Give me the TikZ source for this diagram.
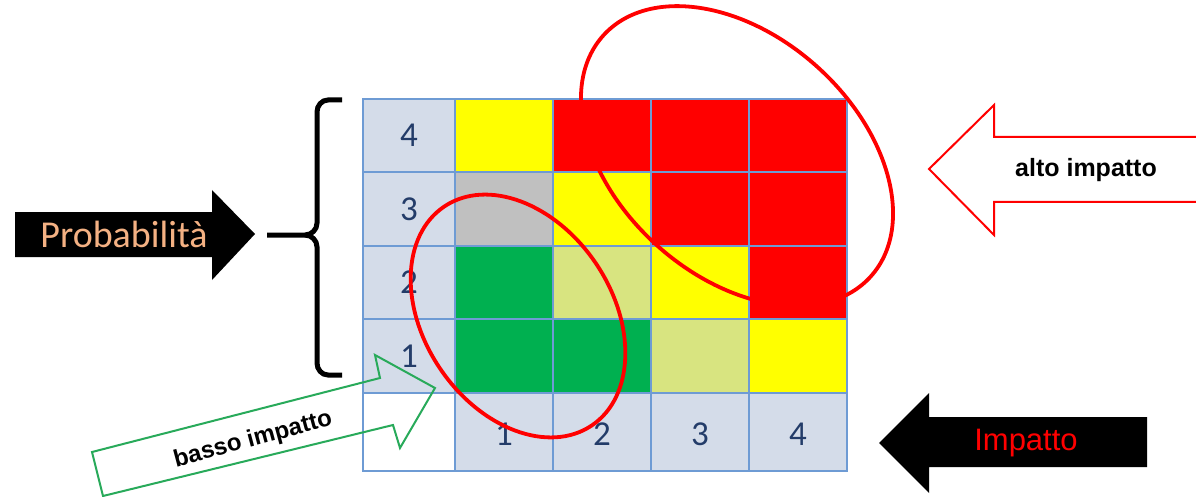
\documentclass[tikz,border=0pt]{standalone}
\usepackage{fontspec}
\setmainfont{Carlito}
\newfontfamily\arialf{Liberation Sans}
\definecolor{gridblue}{RGB}{110,155,212}
\definecolor{labfill}{RGB}{212,220,233}
\definecolor{numcol}{RGB}{35,60,105}
\definecolor{cyel}{RGB}{255,255,0}
\definecolor{cred}{RGB}{255,0,0}
\definecolor{cgreen}{RGB}{0,176,80}
\definecolor{clgreen}{RGB}{216,228,128}
\definecolor{cgray}{RGB}{192,192,192}
\definecolor{tan}{RGB}{244,177,131}
\definecolor{arrowgreen}{RGB}{40,170,90}
\newcommand\cellbox[5]{\path[draw=gridblue,line width=1.3pt,fill=#5] (#1,#2) rectangle (#3,#4);}
\tikzset{
  numlab/.style={font=\fontsize{35}{35}\selectfont, text=numcol, inner sep=0pt},
  ring/.style={draw=cred, line width=3.8pt},
}
\begin{document}
\begin{tikzpicture}[x=1pt,y=-1pt]
\useasboundingbox[fill=white] (0,0) rectangle (1196,497);
% row 4
\cellbox{363}{99}{455}{172}{labfill}
\cellbox{455}{99}{553}{172}{cyel}
\cellbox{553}{99}{651}{172}{cred}
\cellbox{651}{99}{749}{172}{cred}
\cellbox{749}{99}{847}{172}{cred}
% row 3
\cellbox{363}{172}{455}{246}{labfill}
\cellbox{455}{172}{553}{246}{cgray}
\cellbox{553}{172}{651}{246}{cyel}
\cellbox{651}{172}{749}{246}{cred}
\cellbox{749}{172}{847}{246}{cred}
% row 2
\cellbox{363}{246}{455}{319}{labfill}
\cellbox{455}{246}{553}{319}{cgreen}
\cellbox{553}{246}{651}{319}{clgreen}
\cellbox{651}{246}{749}{319}{cyel}
\cellbox{749}{246}{847}{319}{cred}
% row 1
\cellbox{363}{319}{455}{393}{labfill}
\cellbox{455}{319}{553}{393}{cgreen}
\cellbox{553}{319}{651}{393}{cgreen}
\cellbox{651}{319}{749}{393}{clgreen}
\cellbox{749}{319}{847}{393}{cyel}
% bottom row
\cellbox{363}{393}{455}{471}{white}
\cellbox{455}{393}{553}{471}{labfill}
\cellbox{553}{393}{651}{471}{labfill}
\cellbox{651}{393}{749}{471}{labfill}
\cellbox{749}{393}{847}{471}{labfill}
% labels
\node[numlab] (p4) at (409,135) {4};
\node[numlab] (p3) at (409,209) {3};
\node[numlab] (p2) at (409,282) {2};
\node[numlab] (p1) at (409,356) {1};
\node[numlab] (i1) at (504,434) {1};
\node[numlab] (i2) at (602,434) {2};
\node[numlab] (i3) at (700,434) {3};
\node[numlab] (i4) at (798,434) {4};
% ellipses
\draw[ring, rotate around={-42:(737,156)}] (737,156) ellipse [x radius=180pt, y radius=120pt];
\draw[ring, rotate around={-56:(518,316)}] (518,316) ellipse [x radius=132pt, y radius=94pt];
% brace
\draw[line width=5pt, line cap=butt] (342,100) -- (328,100) to[out=180,in=90] (317,112) -- (317,223) to[out=-90,in=0] (305,235) -- (267,235);
\draw[line width=5pt, line cap=butt] (305,235) to[out=0,in=90] (317,247) -- (317,363) to[out=-90,in=180] (328,375) -- (342,375);
% Probabilita arrow
\fill[black] (15,212) -- (212,212) -- (212,190) -- (255,234) -- (212,280) -- (212,257) -- (15,257) -- cycle;
\node[text=tan, font=\fontsize{38}{38}\selectfont, inner sep=0pt] (prob) at (124,234) {Probabilità};
% Impatto arrow
\fill[black] (1147,417) -- (929,417) -- (929,393) -- (879,443) -- (929,493) -- (929,467) -- (1147,467) -- cycle;
\node[text=red, font=\arialf\fontsize{31}{31}\selectfont, inner sep=0pt] (imp) at (1026,443) {Impatto};
% alto impatto arrow
\draw[draw=red, line width=2pt, line join=miter] (1205,137) -- (994,137) -- (994,105) -- (929,169) -- (994,235) -- (994,202) -- (1205,202);
\node[font=\arialf\bfseries\fontsize{25}{25}\selectfont, inner sep=0pt] (alto) at (1086,170) {alto impatto};
% basso impatto arrow
\draw[draw=arrowgreen, line width=2pt, line join=miter] (92,452) -- (380,378) -- (375,355) -- (435,388) -- (400,448) -- (393,425) -- (103,496) -- cycle;
\node[font=\arialf\bfseries\fontsize{24}{24}\selectfont, inner sep=0pt, rotate=15] (basso) at (253,440) {basso impatto};
\end{tikzpicture}
\end{document}
